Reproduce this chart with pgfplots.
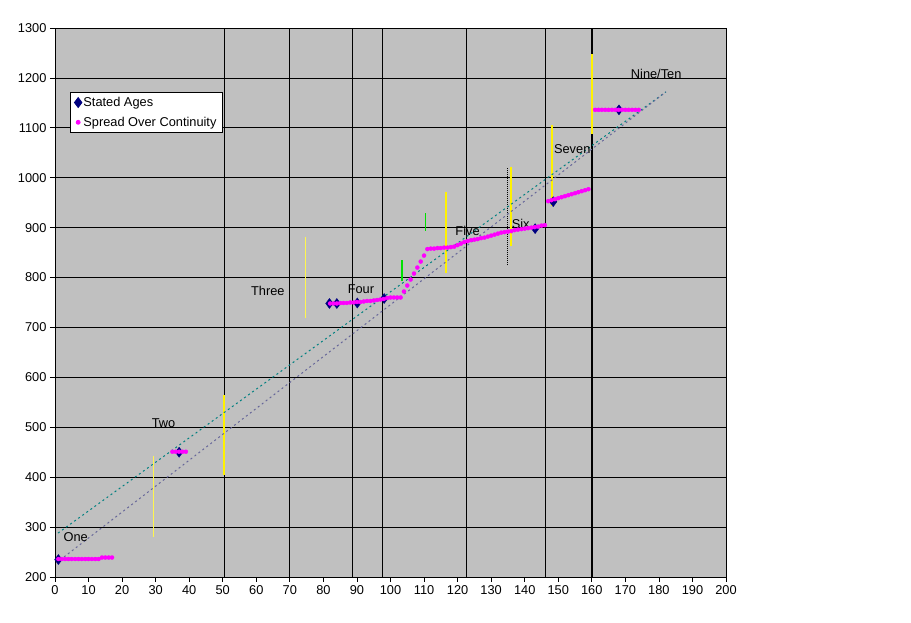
\documentclass[border=0pt]{standalone}
\usepackage{fontspec}
\setmainfont{Liberation Sans}
\usepackage{pgfplots}
\pgfplotsset{compat=1.18}
\definecolor{plotgray}{HTML}{C0C0C0}
\definecolor{agenavy}{HTML}{000080}
\definecolor{trendteal}{HTML}{008080}
\definecolor{trendslate}{HTML}{666699}
\definecolor{brightgreen}{HTML}{00E000}
\definecolor{spreadpink}{HTML}{FF00FF}

\begin{document}
\begin{tikzpicture}
\fill[white] (-55pt,-46pt) rectangle (856pt,577pt);
\begin{axis}[
  at={(0pt,0pt)}, anchor=south west,
  scale only axis, width=671pt, height=549pt,
  xmin=0, xmax=200, ymin=200, ymax=1300,
  xtick={0,10,...,200}, ytick={200,300,...,1300},
  tick pos=left, tick align=outside, major tick length=5pt,
  every tick/.style={black, line width=0.8pt},
  axis line style={black, line width=0.8pt},
  axis background/.style={fill=plotgray},
  ymajorgrids, major grid style={black, line width=0.8pt},
  font=\fontsize{12.8}{15}\selectfont,
  /pgf/number format/assume math mode=true,
  /pgf/number format/1000 sep={},
  legend style={at={(0.0224,0.883)}, anchor=north west, draw=black,
    line width=0.8pt, fill=white, inner xsep=4pt, inner ysep=3pt,
    row sep=6pt, font=\fontsize{12.8}{15}\selectfont,
    nodes={inner sep=1.5pt}},
  legend cell align=left,
]

% vertical reference lines
\addplot[forget plot, black, line width=1pt] coordinates {(50.4,200) (50.4,1300)};
\addplot[forget plot, black, line width=1pt] coordinates {(70,200) (70,1300)};
\addplot[forget plot, black, line width=1pt] coordinates {(88.8,200) (88.8,1300)};
\addplot[forget plot, black, line width=1pt] coordinates {(97.5,200) (97.5,1300)};
\addplot[forget plot, black, line width=1pt] coordinates {(122.8,200) (122.8,1300)};
\addplot[forget plot, black, line width=1pt] coordinates {(146.3,200) (146.3,1300)};
\addplot[forget plot, black, line width=2.6pt] coordinates {(160.1,200) (160.1,1300)};
\addplot[forget plot, black, line width=0.8pt, dash pattern=on 1pt off 1pt] coordinates {(134.7,825) (134.7,1019)};

% coloured markers
\addplot[forget plot, yellow!70!white, line width=0.8pt] coordinates {(29.3,280) (29.3,442)};
\addplot[forget plot, yellow!70!white, line width=0.8pt] coordinates {(74.5,719) (74.5,881)};
\addplot[forget plot, yellow, line width=1.4pt] coordinates {(50.4,404) (50.4,565)};
\addplot[forget plot, yellow, line width=1.4pt] coordinates {(116.5,809) (116.5,971)};
\addplot[forget plot, yellow, line width=1.4pt] coordinates {(135.9,863) (135.9,1021)};
\addplot[forget plot, yellow, line width=1.4pt] coordinates {(148.1,943) (148.1,1106)};
\addplot[forget plot, yellow, line width=1.4pt] coordinates {(160.1,1088) (160.1,1248)};
\addplot[forget plot, brightgreen, line width=1.2pt] coordinates {(103.4,793) (103.4,835)};
\addplot[forget plot, brightgreen, line width=1.2pt] coordinates {(110.4,894) (110.4,930)};

% trend lines
\addplot[forget plot, trendteal, line width=1pt, dash pattern=on 2pt off 3pt] coordinates {(0.9,288) (182.1,1172)};
\addplot[forget plot, trendslate, line width=1pt, dash pattern=on 2pt off 3pt] coordinates {(1.5,234) (182.1,1172)};

\addplot[only marks, mark=diamond*, mark size=5pt, agenavy, mark options={draw=agenavy, fill=agenavy}] coordinates {
  (1,235) (37,450) (81.8,748) (84,748) (90.1,749) (98.1,758)
  (143.1,898) (148.5,952) (168.1,1136)
};
\addlegendentry{Stated Ages}

\addplot[only marks, mark=*, mark size=2pt, spreadpink, mark options={draw=spreadpink, fill=spreadpink}] coordinates {
  (1,236) (2,236) (3,236) (4,236) (5,236) (6,236) (7,236) (8,236) (9,236)
  (10,236) (11,236) (12,236) (13,236) (14,239) (15,239) (16,239) (17,239)
  (35,451) (36,451) (37,451) (38,451) (39,451)
  (82,748) (83,748) (84,748) (85,749) (86,749) (87,749) (88,750) (89,750)
  (90,751) (91,751) (92,752) (93,753) (94,753) (95,754) (96,755) (97,756)
  (98,757) (99,759) (100,760) (101,760) (102,760) (103,760)
  (104,772) (105,784) (106,796) (107,808) (108,820) (109,832) (110,844)
  (111,857) (112,858) (113,858) (114,859) (115,859) (116,860) (117,860)
  (118,861) (119,862) (120,865) (121,868) (122,871) (123,873) (124,875)
  (125,876) (126,877) (127,879) (128,880) (129,882) (130,884) (131,886)
  (132,888) (133,890) (134,891) (135,892) (136,893) (137,895) (138,896)
  (139,897) (140,898) (141,899) (142,900) (143,901) (144,902) (145,904)
  (146,905)
  (147,953) (148,955) (149,957) (150,959) (151,961) (152,963) (153,965)
  (154,967) (155,969) (156,971) (157,973) (158,975) (159,977)
  (161,1136) (162,1136) (163,1136) (164,1136) (165,1136) (166,1136)
  (167,1136) (168,1136) (169,1136) (170,1136) (171,1136) (172,1136)
  (173,1136) (174,1136)
};
\addlegendentry{Spread Over Continuity}

\node[anchor=west, inner sep=0pt] at (axis cs:2.5,280) {One};
\node[anchor=west, inner sep=0pt] at (axis cs:28.8,509) {Two};
\node[anchor=west, inner sep=0pt] at (axis cs:58.4,773) {Three};
\node[anchor=west, inner sep=0pt] at (axis cs:87.2,776) {Four};
\node[anchor=west, inner sep=0pt] at (axis cs:119.3,894) {Five};
\node[anchor=west, inner sep=0pt] at (axis cs:136.1,907) {Six};
\node[anchor=west, inner sep=0pt] at (axis cs:148.7,1057) {Seven};
\node[anchor=west, inner sep=0pt] at (axis cs:171.6,1208) {Nine/Ten};
\end{axis}
\pgfresetboundingbox
\path[use as bounding box] (-55pt,-46pt) rectangle (856pt,577pt);
\end{tikzpicture}
\end{document}
